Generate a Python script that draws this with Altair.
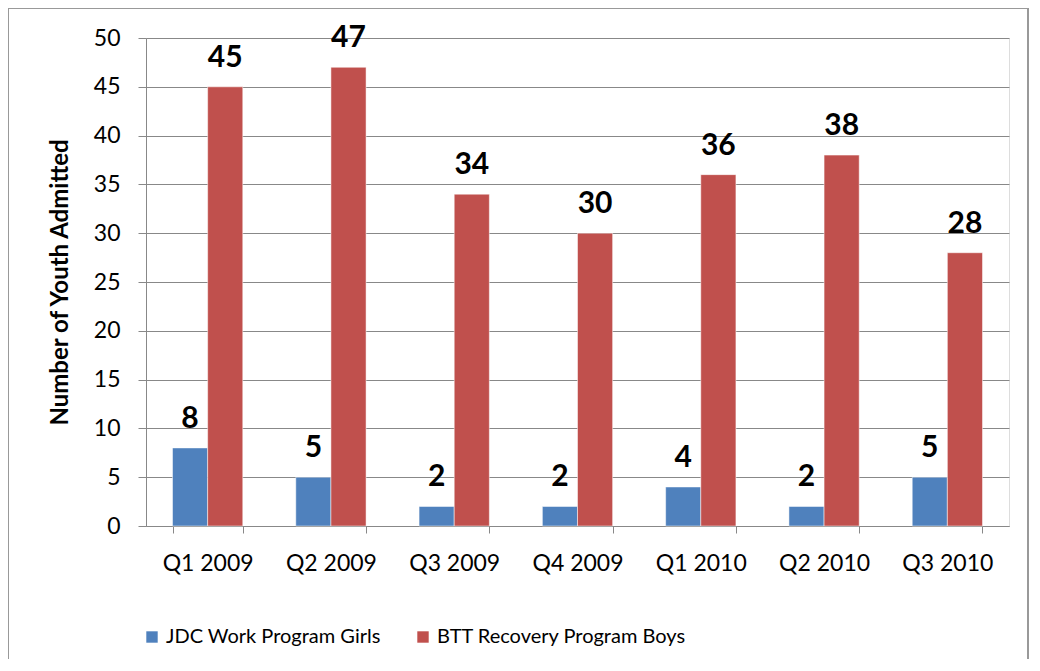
import altair as alt
import pandas as pd

quarters = ["Q1 2009", "Q2 2009", "Q3 2009", "Q4 2009", "Q1 2010", "Q2 2010", "Q3 2010"]
girls = [8, 5, 2, 2, 4, 2, 5]
boys = [45, 47, 34, 30, 36, 38, 28]
series = ["JDC Work Program Girls", "BTT Recovery Program Boys"]
colors = ["#4F81BD", "#C0504D"]

rows = []
for q, g, b in zip(quarters, girls, boys):
    rows.append({"quarter": q, "series": series[0], "value": g})
    rows.append({"quarter": q, "series": series[1], "value": b})
df = pd.DataFrame(rows)

FONT = "Lato"

x = alt.X("quarter:N", sort=quarters, title=None,
          scale=alt.Scale(paddingInner=0.43, paddingOuter=0.215),
          axis=alt.Axis(labelAngle=0, labelFontSize=23, labelColor="black", labelFont=FONT,
                        tickBand="extent", tickSize=7, tickColor="#888888",
                        domainColor="#888888", labelPadding=19, grid=False))
y = alt.Y("value:Q", title="Number of Youth Admitted",
          scale=alt.Scale(domain=[0, 50], nice=False),
          axis=alt.Axis(values=list(range(0, 51, 5)), labelFontSize=23, labelColor="black",
                        labelFont=FONT, tickSize=8, tickColor="#888888", domainColor="#888888",
                        gridColor="#888888", labelPadding=18,
                        titleFontSize=24, titleFont=FONT, titleFontWeight="bold",
                        titleColor="black", titleX=-86, titleY=244, titleBaseline="middle",
                        titleAngle=270))

color = alt.Color("series:N", sort=series,
                  scale=alt.Scale(domain=series, range=colors),
                  legend=alt.Legend(title=None, orient="none", direction="horizontal",
                                    legendX=-4, legendY=589, symbolType="square",
                                    symbolSize=130, symbolStrokeWidth=0, labelFontSize=20,
                                    labelFont=FONT, labelColor="black",
                                    columnPadding=32, labelOffset=4, labelLimit=400))

base = alt.Chart(df).encode(x=x, xOffset=alt.XOffset("series:N", sort=series),
                            y=y, color=color)

bars = base.mark_bar(stroke="white", strokeWidth=0.5)
labels = base.mark_text(fontSize=30, fontWeight="bold", font=FONT, color="black",
                        baseline="alphabetic", dy=-20).encode(
    text="value:Q", color=alt.value("black"))

border = alt.Chart(df).mark_rect(fill=None, stroke="#999999", strokeWidth=1.5, clip=False).encode(
    x=alt.value(-138), x2=alt.value(882), y=alt.value(-30), y2=alt.value(700))

chart = alt.layer(border, bars, labels).properties(
    width=863, height=488,
    autosize=alt.AutoSizeParams(type="none"),
    padding={"left": 138, "top": 30, "right": 20, "bottom": 133},
).configure_view(stroke=None).configure(background="white")

chart.save("out.html", embed_options={"renderer": "svg", "actions": False})
